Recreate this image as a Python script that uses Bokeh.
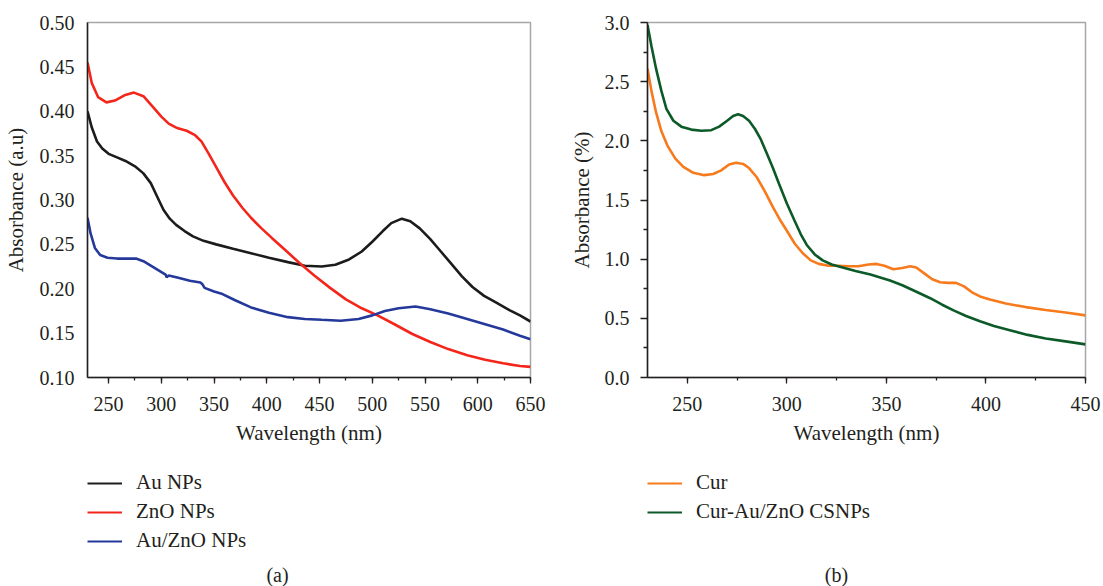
from bokeh.plotting import figure
from bokeh.layouts import row, column
from bokeh.models import (Legend, LegendItem, Label, FixedTicker, PrintfTickFormatter,
                          Range1d)
from bokeh.embed import file_html
from bokeh.resources import INLINE

# ---------------- Data ----------------
# Panel (a)
au_wl = [230, 234, 239, 244, 250, 258, 266, 275, 283, 290, 296, 302, 308, 314, 322, 330,
         340, 352, 368, 385, 402, 420, 436, 452, 465, 478, 490, 500, 510, 518, 528, 536,
         545, 555, 565, 575, 585, 595, 606, 618, 630, 640, 650]
au_abs = [0.400, 0.382, 0.366, 0.358, 0.352, 0.348, 0.344, 0.338, 0.330, 0.319, 0.304,
          0.289, 0.279, 0.272, 0.265, 0.259, 0.254, 0.250, 0.245, 0.240, 0.235, 0.230,
          0.226, 0.225, 0.227, 0.233, 0.242, 0.253, 0.265, 0.274, 0.279, 0.276, 0.268,
          0.256, 0.242, 0.228, 0.214, 0.202, 0.192, 0.184, 0.176, 0.170, 0.163]

zno_wl = [230, 234, 240, 248, 256, 265, 274, 283, 292, 300, 307, 315, 324, 332, 338, 345,
          352, 360, 368, 377, 385, 395, 405, 418, 431, 445, 460, 475, 490, 505, 521, 538,
          555, 572, 590, 607, 624, 640, 650]
zno_abs = [0.455, 0.432, 0.416, 0.410, 0.412, 0.418, 0.421, 0.417, 0.405, 0.394, 0.386,
           0.381, 0.378, 0.373, 0.366, 0.352, 0.337, 0.320, 0.305, 0.291, 0.280, 0.268,
           0.257, 0.243, 0.229, 0.215, 0.201, 0.188, 0.178, 0.170, 0.160, 0.149, 0.140,
           0.132, 0.125, 0.120, 0.116, 0.113, 0.112]

auzno_wl = [230, 233, 237, 242, 249, 258, 268, 276, 283, 290, 297, 304, 305, 307, 317, 327,
            337, 339, 341, 350, 358, 370, 385, 402, 420, 436, 452, 470, 487, 500, 512, 525,
            541, 555, 572, 590, 607, 624, 640, 650]
auzno_abs = [0.280, 0.262, 0.246, 0.238, 0.235, 0.234, 0.234, 0.234, 0.231, 0.226, 0.221,
             0.216, 0.213, 0.215, 0.212, 0.209, 0.207, 0.205, 0.201, 0.197, 0.194, 0.187,
             0.179, 0.173, 0.168, 0.166, 0.165, 0.164, 0.166, 0.170, 0.175, 0.178, 0.180,
             0.177, 0.172, 0.166, 0.160, 0.154, 0.147, 0.143]

# Panel (b)
cur_wl = [230, 232, 234.3, 237, 240, 244, 248, 253, 258.5, 263, 267, 271, 274.5, 278, 281,
          285, 289, 293, 297, 300, 304, 308, 312, 316, 321, 326, 331, 336, 341, 345, 349,
          353.5, 358, 362, 365, 369, 373, 377, 381, 385, 389, 393, 397, 402, 410, 420, 430,
          440, 450]
cur_abs = [2.61, 2.42, 2.24, 2.08, 1.96, 1.85, 1.78, 1.73, 1.71, 1.72, 1.75, 1.80, 1.815,
           1.805, 1.77, 1.69, 1.57, 1.44, 1.32, 1.24, 1.13, 1.05, 0.99, 0.96, 0.945, 0.945,
           0.94, 0.94, 0.955, 0.96, 0.945, 0.915, 0.925, 0.94, 0.93, 0.88, 0.83, 0.805,
           0.80, 0.80, 0.77, 0.72, 0.685, 0.66, 0.625, 0.595, 0.57, 0.55, 0.525]

cs_wl = [230, 232, 234.3, 237, 239.5, 243, 247, 252, 257, 262, 266, 270, 273, 275.5, 278,
         281, 284, 287, 290, 293, 296, 300, 304, 307, 310, 314, 318, 322.5, 328, 334.5, 342,
         351.8, 358, 365.6, 372, 378, 384, 390, 397, 404, 412, 421, 430, 440, 450]
cs_abs = [2.98, 2.80, 2.61, 2.42, 2.27, 2.17, 2.12, 2.095, 2.085, 2.09, 2.12, 2.17, 2.21,
          2.225, 2.21, 2.17, 2.10, 2.01, 1.89, 1.77, 1.64, 1.47, 1.32, 1.21, 1.12, 1.04,
          0.99, 0.955, 0.93, 0.90, 0.87, 0.82, 0.78, 0.72, 0.67, 0.615, 0.565, 0.52, 0.475,
          0.435, 0.40, 0.36, 0.33, 0.305, 0.28]

a_labels = ["Au NPs", "ZnO NPs", "Au/ZnO NPs"]
b_labels = ["Cur", "Cur-Au/ZnO CSNPs"]
a_xticks = [250, 300, 350, 400, 450, 500, 550, 600, 650]
a_yticks = [0.10, 0.15, 0.20, 0.25, 0.30, 0.35, 0.40, 0.45, 0.50]
b_xticks = [250, 300, 350, 400, 450]
b_yticks = [0.0, 0.5, 1.0, 1.5, 2.0, 2.5, 3.0]

FONT = "Liberation Serif"
TXT = "#231f20"
C_AU, C_ZNO, C_AUZNO = "#1c1c1c", "#f4261b", "#25399b"
C_CUR, C_CS = "#f77a1c", "#0c5a27"


def style(p, y_major_out, y_minor_out):
    p.outline_line_color = "#a6a6a6"
    p.outline_line_width = 1.5
    p.xgrid.visible = False
    p.ygrid.visible = False
    for ax in (p.xaxis[0], p.yaxis[0]):
        ax.axis_line_color = "#231f20"
        ax.axis_line_width = 1.5
        ax.major_tick_line_color = "#231f20"
        ax.minor_tick_line_color = "#231f20"
        ax.major_tick_line_width = 1.3
        ax.minor_tick_line_width = 1.3
        ax.major_tick_in = 0
        ax.minor_tick_in = 0
        ax.major_label_text_font = FONT
        ax.major_label_text_font_size = "20px"
        ax.major_label_text_color = TXT
        ax.axis_label_text_font = FONT
        ax.axis_label_text_font_size = "21px"
        ax.axis_label_text_font_style = "normal"
        ax.axis_label_text_color = TXT
    p.xaxis[0].major_tick_out = 6
    p.xaxis[0].minor_tick_out = 3
    p.xaxis[0].major_label_standoff = 13
    p.xaxis[0].axis_label_standoff = 7
    p.yaxis[0].major_tick_out = y_major_out
    p.yaxis[0].minor_tick_out = y_minor_out


def caption_fig(width, xs, ys, labels, colors, legend_x, legend_y, cap, cap_x):
    c = figure(width=width, height=131, output_backend="svg", toolbar_location=None,
               x_range=Range1d(0, width), y_range=Range1d(0, 131),
               x_axis_type=None, y_axis_type=None,
               min_border_left=0, min_border_right=0, min_border_top=0,
               min_border_bottom=0)
    c.outline_line_color = None
    c.xgrid.visible = False
    c.ygrid.visible = False
    items = []
    for x, y, lab, col in zip(xs, ys, labels, colors):
        # hidden copy of the series: it only supplies the legend swatch
        r = c.line(x, y, line_color=col, line_width=2.2, visible=False)
        items.append(LegendItem(label=lab, renderers=[r]))
    leg = Legend(items=items, location=(legend_x, legend_y), orientation="vertical",
                 glyph_width=35, glyph_height=20, label_height=20, label_standoff=14,
                 spacing=4, padding=0, margin=0, border_line_color=None,
                 background_fill_alpha=0, label_text_font=FONT,
                 label_text_font_size="21px", label_text_color=TXT,
                 click_policy="none")
    c.add_layout(leg, "center")
    c.add_layout(Label(x=cap_x, y=12, x_units="screen", y_units="screen", text=cap,
                       text_align="center", text_baseline="middle", text_font=FONT,
                       text_font_size="20px", text_color=TXT))
    return c


# ---------------- Panel (a) ----------------
p1 = figure(width=560, height=455, output_backend="svg", toolbar_location=None,
            x_range=Range1d(230, 650), y_range=Range1d(0.10, 0.50),
            min_border_left=87, min_border_right=30, min_border_top=22,
            min_border_bottom=78)
style(p1, 0, 0)
p1.xaxis.axis_label = "Wavelength (nm)"
p1.yaxis.axis_label = "Absorbance (a.u)"
p1.xaxis.ticker = FixedTicker(ticks=a_xticks, minor_ticks=list(range(225, 676, 25)))
p1.yaxis.ticker = FixedTicker(ticks=a_yticks, minor_ticks=[])
p1.yaxis.formatter = PrintfTickFormatter(format="%.2f")
p1.yaxis.major_label_standoff = 13
p1.yaxis.axis_label_standoff = 9

p1.line(au_wl, au_abs, line_color=C_AU, line_width=2.6)
p1.line(zno_wl, zno_abs, line_color=C_ZNO, line_width=2.6)
p1.line(auzno_wl, auzno_abs, line_color=C_AUZNO, line_width=2.6)

# ---------------- Panel (b) ----------------
p2 = figure(width=543, height=455, output_backend="svg", toolbar_location=None,
            x_range=Range1d(230, 450), y_range=Range1d(0.0, 3.0),
            min_border_left=87, min_border_right=18, min_border_top=22,
            min_border_bottom=78)
style(p2, 7, 4)
p2.xaxis.axis_label = "Wavelength (nm)"
p2.yaxis.axis_label = "Absorbance (%)"
p2.xaxis.ticker = FixedTicker(ticks=b_xticks, minor_ticks=list(range(225, 476, 25)))
p2.yaxis.ticker = FixedTicker(ticks=b_yticks,
                              minor_ticks=[0.25, 0.75, 1.25, 1.75, 2.25, 2.75])
p2.yaxis.formatter = PrintfTickFormatter(format="%.1f")
p2.yaxis.major_label_standoff = 11
p2.yaxis.axis_label_standoff = 8

p2.line(cur_wl, cur_abs, line_color=C_CUR, line_width=2.6)
p2.line(cs_wl, cs_abs, line_color=C_CS, line_width=2.6)

# ---------------- Legends and captions ----------------
c1 = caption_fig(560, [au_wl, zno_wl, auzno_wl], [au_abs, zno_abs, auzno_abs], a_labels,
                 [C_AU, C_ZNO, C_AUZNO], 87, 33, "(a)", 277)
c2 = caption_fig(543, [cur_wl, cs_wl], [cur_abs, cs_abs], b_labels, [C_CUR, C_CS],
                 87, 62, "(b)", 276)

layout = column(row(p1, p2), row(c1, c2))
open("out.html", "w").write(file_html(layout, INLINE))
